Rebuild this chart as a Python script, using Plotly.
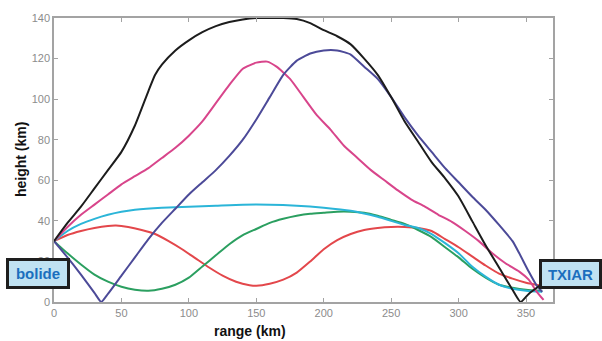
import plotly.graph_objects as go

# Ray paths: range (km) vs height (km) for each trajectory
black_x = [0, 10, 20, 30, 40, 50, 60, 70, 75, 80, 90, 100, 110, 120, 130, 140, 150, 160, 170, 180, 190, 200, 210, 220, 230, 240, 250, 260, 270, 280, 290, 300, 310, 320, 330, 340, 346, 352, 360]
black_y = [30, 39, 47, 56, 65, 74, 87, 104, 112, 117, 124, 129, 133, 136, 138, 139.3, 140, 140, 140, 139.5, 137.5, 134, 131, 127, 120, 112, 101, 89, 79, 69, 61, 52, 40, 28, 17, 6, 0, 4, 8]

purple_x = [0, 10, 20, 30, 35, 40, 50, 60, 70, 80, 90, 100, 110, 120, 130, 140, 150, 160, 170, 180, 190, 200, 210, 220, 230, 240, 250, 260, 270, 280, 290, 300, 310, 320, 330, 340, 345, 352, 358, 362]
purple_y = [30, 22, 13.5, 4.5, 0, 4, 13, 22, 31, 39, 46, 53, 59, 65, 72, 80, 90, 101, 112, 119, 122.5, 124, 124, 122, 116, 110, 101, 91, 82, 74, 66, 59, 52, 45.5, 38, 30, 24, 15, 8, 5]

magenta_x = [0, 10, 20, 30, 40, 50, 60, 70, 80, 90, 100, 110, 120, 130, 140, 150, 158, 165, 175, 185, 195, 205, 215, 225, 235, 245, 255, 265, 275, 285, 295, 305, 315, 325, 335, 345, 352, 358, 363]
magenta_y = [30, 37, 43, 48, 53, 58, 62, 66, 71, 76, 82, 89, 98, 107, 115, 118, 118.5, 116, 110, 101, 92, 85, 77, 71, 65, 60, 55, 50.5, 47, 43, 39.5, 35, 30, 24, 19, 15, 11, 5, 1]

cyan_x = [0, 10, 20, 30, 40, 50, 60, 80, 100, 120, 140, 160, 180, 200, 220, 240, 250, 260, 270, 280, 290, 300, 310, 320, 330, 340, 350, 362]
cyan_y = [30, 35, 38.5, 41, 43, 44.5, 45.5, 46.5, 47, 47.5, 48, 48, 47.5, 46.5, 45, 42, 40, 38, 36.5, 33.5, 29, 24, 17.5, 12.5, 8.5, 6.5, 5.5, 5]

green_x = [0, 10, 20, 30, 40, 50, 60, 70, 80, 90, 100, 110, 120, 130, 140, 150, 160, 170, 180, 190, 200, 210, 220, 230, 240, 250, 260, 270, 280, 290, 300, 310, 320, 330, 340, 350, 362]
green_y = [30, 24, 18.5, 13.5, 10, 7.5, 6, 5.5, 6.5, 8.5, 12, 17.5, 23, 28.5, 33, 36, 39, 41, 42.5, 43.5, 44, 44.5, 44.5, 44, 42.5, 40.5, 38.5, 35.5, 32, 27, 22, 16.5, 12, 8.5, 7, 6, 5.5]

red_x = [0, 10, 20, 30, 40, 46, 55, 65, 75, 85, 95, 105, 115, 125, 135, 145, 150, 160, 170, 180, 190, 200, 210, 220, 230, 240, 250, 260, 270, 280, 290, 300, 310, 320, 330, 340, 350, 362]
red_y = [30, 33, 35, 36.5, 37.5, 37.7, 37, 35.5, 33.5, 30, 26, 21.5, 17, 13, 10, 8.3, 8, 9, 11, 14.5, 20, 26, 30.5, 33.5, 35.5, 36.5, 37, 37, 36.5, 35, 31, 27, 22.5, 18, 14, 11.5, 9.5, 8]

x_ticks = [0, 50, 100, 150, 200, 250, 300, 350]
y_ticks = [0, 20, 40, 60, 80, 100, 120, 140]

series = [
    (red_x, red_y, "#e3474b"),
    (green_x, green_y, "#2b9f60"),
    (cyan_x, cyan_y, "#2bb5d8"),
    (magenta_x, magenta_y, "#d8458b"),
    (purple_x, purple_y, "#4c4a98"),
    (black_x, black_y, "#1c1c1c"),
]

fig = go.Figure()
for xs, ys, col in series:
    fig.add_trace(go.Scatter(x=xs, y=ys, mode="lines",
                             line=dict(color=col, width=2, shape="spline", smoothing=0.5),
                             showlegend=False, hoverinfo="skip"))

axis_common = dict(showgrid=False, zeroline=False, showline=True, linecolor="#a3a3a3",
                   linewidth=1.5, mirror="ticks", ticks="inside", ticklen=4,
                   tickcolor="#a3a3a3", tickfont=dict(family="Liberation Sans, Arial", size=11, color="#8c8c8c"))

fig.update_layout(
    width=602, height=341,
    margin=dict(l=54, r=49, t=18, b=39),
    paper_bgcolor="white", plot_bgcolor="white",
    xaxis=dict(range=[0, 370], tickvals=x_ticks, **axis_common),
    yaxis=dict(range=[0, 140], tickvals=y_ticks, **axis_common),
)

title_font = dict(family="Liberation Sans, Arial", size=14, color="#111111")
fig.add_annotation(text="<b>range (km)</b>", xref="paper", yref="paper", x=0.393, y=-0.102,
                   xanchor="center", yanchor="middle", showarrow=False, font=title_font)
fig.add_annotation(text="<b>height (km)</b>", xref="paper", yref="paper", x=-0.066, y=0.5,
                   xanchor="center", yanchor="middle", showarrow=False, textangle=-90, font=title_font)

box_font = dict(family="Liberation Sans, Arial", size=15, color="#1b6fbe")
fig.add_annotation(text="<b>bolide</b>", xref="paper", yref="paper", x=-0.033, y=0.102,
                   xanchor="center", yanchor="middle", showarrow=False, font=box_font,
                   bgcolor="#c0e2f2", bordercolor="#1e1e1e", borderwidth=3, borderpad=1,
                   width=56, height=23)
fig.add_annotation(text="<b>TXIAR</b>", xref="paper", yref="paper", x=1.035, y=0.0986,
                   xanchor="center", yanchor="middle", showarrow=False, font=box_font,
                   bgcolor="#c0e2f2", bordercolor="#1e1e1e", borderwidth=3, borderpad=1,
                   width=55, height=22)

fig.write_html("out.html")
